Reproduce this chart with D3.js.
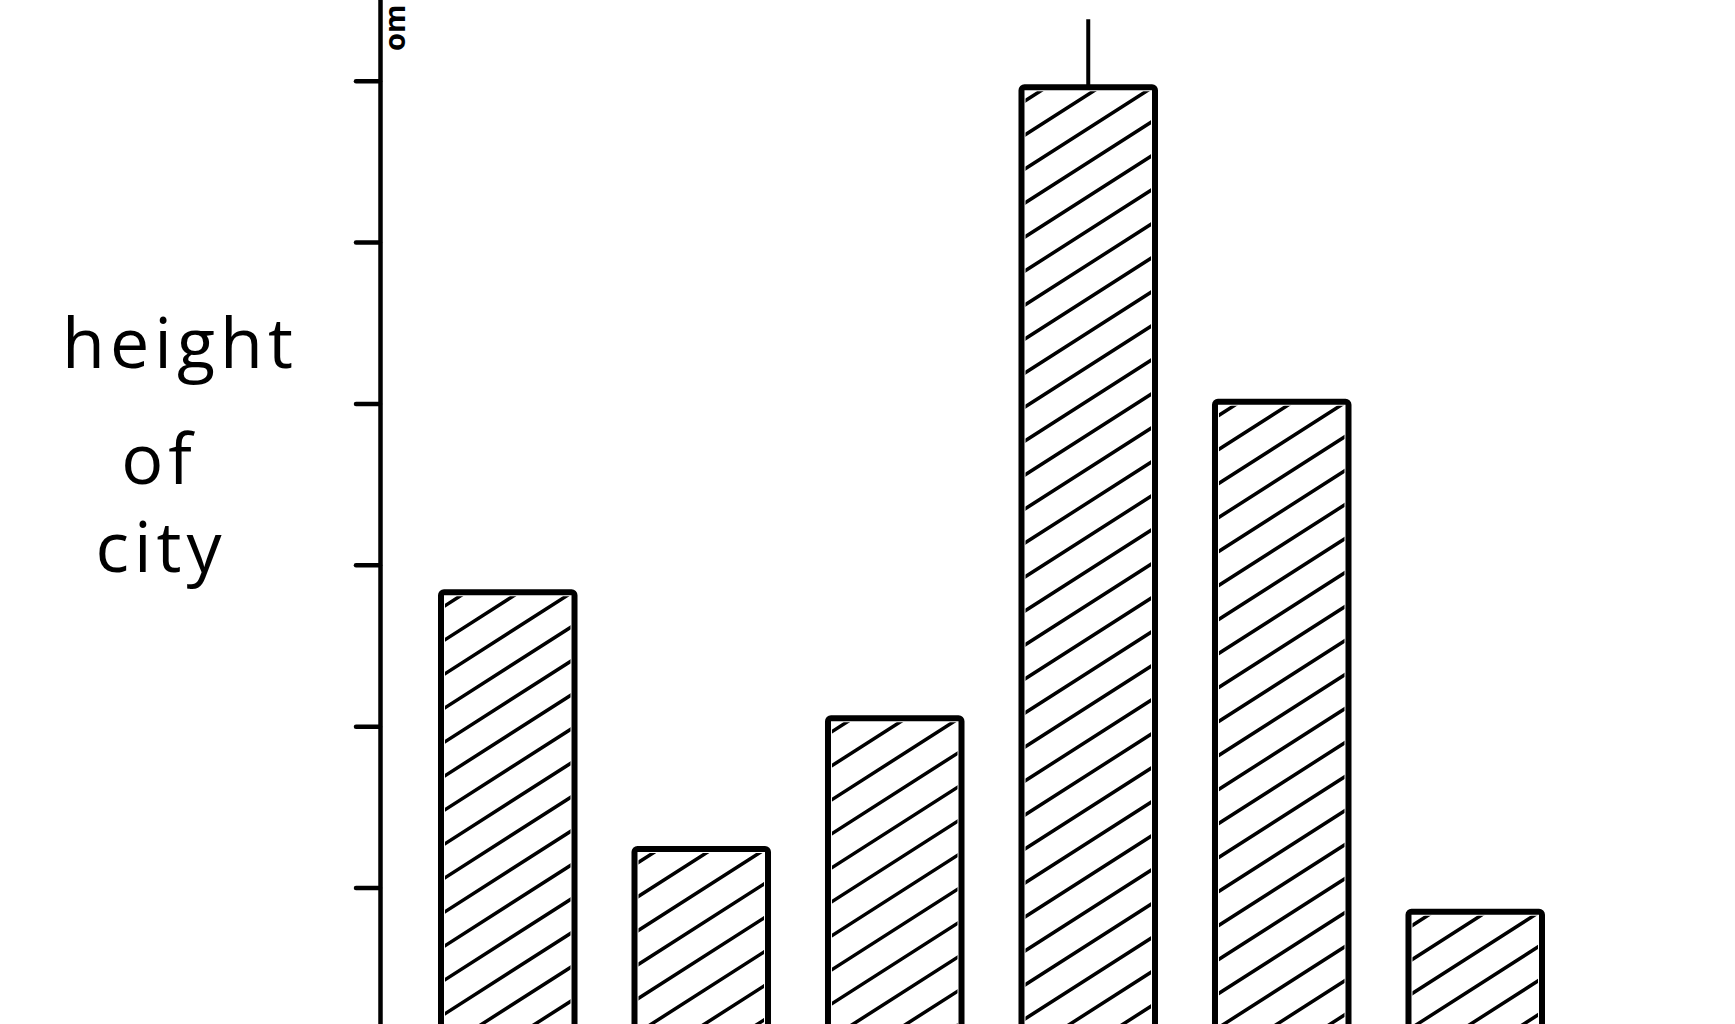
<!DOCTYPE html>
<meta charset="utf-8">
<style>
body {
  margin: 0;
  background: #fff;
}

.axis path,
.axis line {
  fill: none;
  stroke: #000;
  stroke-width: 4.5px;
  stroke-linecap: round;
}

.label {
  font-family: "Open Sans", "DejaVu Sans", sans-serif;
  font-weight: 400;
  fill: #000;
}

.bar {
  fill: #fff;
  stroke: #000;
  stroke-width: 6px;
  stroke-linejoin: round;
}

.hatch line {
  stroke: #000;
  stroke-width: 3.5px;
  stroke-linecap: round;
}

.err {
  stroke: #000;
  stroke-width: 4px;
}
</style>
<svg id="plot" width="1735" height="1024"></svg>

<script src="https://d3js.org/d3.v7.min.js"></script>
<script>

var categories = ["city 1", "city 2", "city 3", "city 4", "city 5", "city 6"];
var heights = [2.83, 1.24, 2.05, 5.96, 4.01, 0.85];
var errors = [0, 0, 0, 0.42, 0, 0];
var yTicks = [1, 2, 3, 4, 5, 6];
var yLabel = ["height", "of", "city"];
var topLabel = "om";

var svg = d3.select("svg");

var x = d3.scaleBand()
    .domain(categories)
    .range([441, 1542])
    .paddingInner(0.31)
    .paddingOuter(0);

var y = d3.scaleLinear()
    .domain([0, 6.5])
    .range([1049, 0]);

var data = categories.map(function(c, i) {
  return {name: c, value: heights[i], err: errors[i]};
});

// y axis, ticks only, no numbers
svg.append("g")
    .attr("class", "axis")
    .attr("transform", "translate(380,0)")
    .call(d3.axisLeft(y).tickValues(yTicks).tickSize(24).tickSizeOuter(0).tickFormat(""));

svg.append("text")
    .attr("class", "label")
    .attr("transform", "translate(405,51) rotate(-90)")
    .style("font-size", "29px")
    .style("font-weight", 700)
    .text(topLabel);

var labelPos = [[180, 368], [159, 484], [161, 572]];

svg.append("g")
  .selectAll("text")
  .data(yLabel)
  .enter().append("text")
    .attr("class", "label")
    .attr("x", function(d, i) { return labelPos[i][0]; })
    .attr("y", function(d, i) { return labelPos[i][1]; })
    .attr("text-anchor", "middle")
    .style("font-size", "70px")
    .style("letter-spacing", "5px")
    .text(function(d) { return d; });

// error bars go under the bars
svg.append("g")
  .selectAll("line")
  .data(data.filter(function(d) { return d.err > 0; }))
  .enter().append("line")
    .attr("class", "err")
    .attr("x1", function(d) { return x(d.name) + x.bandwidth() / 2; })
    .attr("x2", function(d) { return x(d.name) + x.bandwidth() / 2; })
    .attr("y1", function(d) { return y(d.value + d.err); })
    .attr("y2", function(d) { return y(d.value - d.err); });

var defs = svg.append("defs");

data.forEach(function(d, i) {
  defs.append("clipPath")
      .attr("id", "clip" + i)
    .append("rect")
      .attr("x", x(d.name) + 4)
      .attr("y", y(d.value) + 4)
      .attr("width", x.bandwidth() - 8)
      .attr("height", y(0) - y(d.value));
});

var bar = svg.append("g")
  .selectAll("g")
  .data(data)
  .enter().append("g");

bar.append("rect")
    .attr("class", "bar")
    .attr("x", function(d) { return x(d.name); })
    .attr("y", function(d) { return y(d.value); })
    .attr("width", x.bandwidth())
    .attr("height", function(d) { return y(0) - y(d.value) + 10; })
    .attr("rx", 3);

var slope = 0.64, gap = 34;

bar.append("g")
    .attr("class", "hatch")
    .attr("clip-path", function(d, i) { return "url(#clip" + i + ")"; })
  .selectAll("line")
  .data(function(d) {
    var x0 = x(d.name), w = x.bandwidth(), top = y(d.value), bottom = y(0);
    return d3.range(top + 16, bottom + w * slope, gap).map(function(yy) {
      return {x1: x0, y1: yy, x2: x0 + w, y2: yy - w * slope};
    });
  })
  .enter().append("line")
    .attr("x1", function(d) { return d.x1; })
    .attr("y1", function(d) { return d.y1; })
    .attr("x2", function(d) { return d.x2; })
    .attr("y2", function(d) { return d.y2; });

</script>
